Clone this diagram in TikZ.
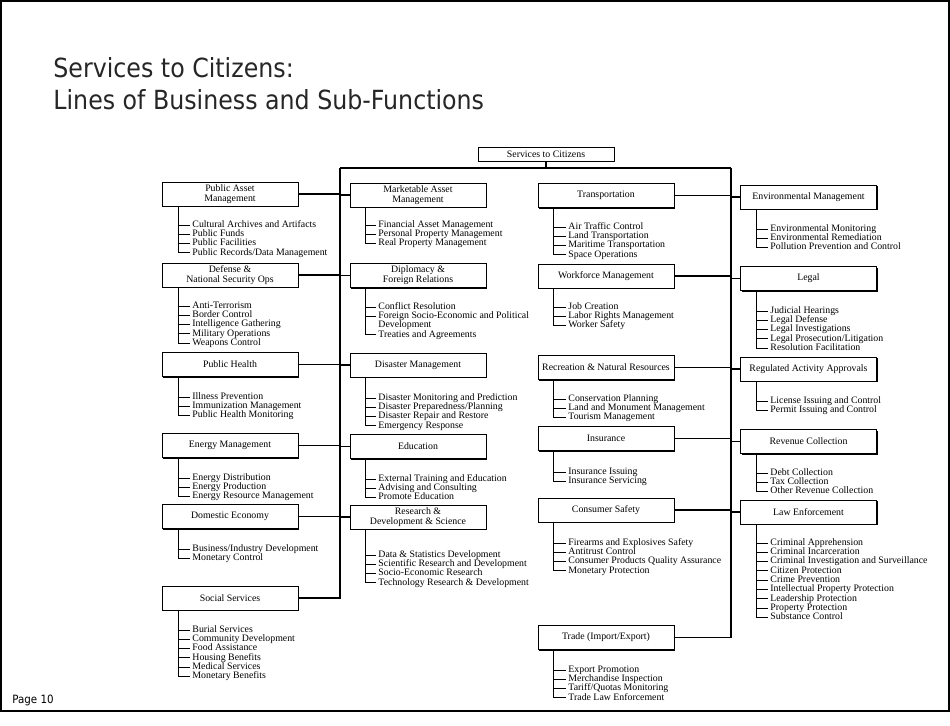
\documentclass[tikz,border=0pt]{standalone}
\usepackage{fontspec}
\setmainfont{Liberation Serif}
\newfontfamily\slidefont{DejaVu Sans Condensed}
\usetikzlibrary{positioning,shadows}

\tikzset{
  lob/.style={draw,fill=white,line width=0.5pt,align=center,inner sep=1pt,
    minimum width=2.72cm,minimum height=0.48cm,font=\fontsize{5.6}{5.8}\selectfont,
    drop shadow={shadow xshift=0.6pt,shadow yshift=-0.6pt,opacity=1,fill=black}},
  sub/.style={inner xsep=0.04cm,inner ysep=0pt,text height=3.9pt,text depth=1.3pt,
    anchor=west,font=\fontsize{5.6}{5.8}\selectfont},
  subnext/.style={at={([yshift=-0.186cm]#1.west)},anchor=west},
  bus/.style={line width=0.6pt},
}

\begin{document}
\begin{tikzpicture}[x=0.02cm,y=-0.02cm,line width=0.5pt]
  \useasboundingbox (0,0) rectangle (950,725);
  \draw[line width=1pt] (1,1) rectangle (949,711);

  \node (title) [anchor=north west,align=left,inner sep=0pt,text=black!85,
    font=\slidefont\fontsize{15}{18}\selectfont] at (53,57)
    {Services to Citizens:\\Lines of Business and Sub-Functions};
  \node (page) [anchor=west,inner sep=0pt,font=\slidefont\fontsize{6.5}{7}\selectfont] at (12,700) {Page 10};

  % root and buses
  \node (sc) [lob,minimum height=0.28cm] at (546,154) {Services to Citizens};
  \coordinate (lbus) at (340,168);
  \coordinate (rbus) at (731,168);

  % left column
  \node (pam) [lob] at (230,194) {Public Asset\\Management};
  \node (dns) [lob] at (230,275) {Defense \&\\National Security Ops};
  \node (ph) [lob] at (230,364.5) {Public Health};
  \node (em) [lob] at (230,445.5) {Energy Management};
  \node (de) [lob] at (230,516.5) {Domestic Economy};
  \node (ss) [lob] at (230,598) {Social Services};

  % second column
  \node (mam) [lob] at (418,195) {Marketable Asset\\Management};
  \node (dfr) [lob] at (418,275.5) {Diplomacy \&\\Foreign Relations};
  \node (dm) [lob] at (418,365) {Disaster Management};
  \node (ed) [lob] at (418,446.5) {Education};
  \node (rds) [lob] at (418,517) {Research \&\\Development \& Science};

  % third column
  \node (tr) [lob] at (606,195.5) {Transportation};
  \node (wm) [lob] at (606,276) {Workforce Management};
  \node (rnr) [lob] at (606,367.5) {Recreation \& Natural Resources};
  \node (ins) [lob] at (606,438.5) {Insurance};
  \node (cs) [lob] at (606,510) {Consumer Safety};
  \node (tie) [lob] at (606,637.5) {Trade (Import/Export)};

  % fourth column
  \node (env) [lob] at (808.5,197) {Environmental Management};
  \node (leg) [lob] at (808.5,278.5) {Legal};
  \node (raa) [lob] at (808.5,369) {Regulated Activity Approvals};
  \node (rc) [lob] at (808.5,441.5) {Revenue Collection};
  \node (le) [lob] at (808.5,512) {Law Enforcement};

  \draw[bus] (sc.south) -- (sc.south |- lbus);
  \draw[bus] (lbus) -- (rbus);
  \draw[bus] (lbus) |- (ss.east);
  \draw[bus] (rbus) |- (tie.east);
  \draw[bus] (pam.east) -- (pam.east -| lbus) (dns.east) -- (dns.east -| lbus)
    (ph.east) -- (ph.east -| lbus) (em.east) -- (em.east -| lbus) (de.east) -- (de.east -| lbus);
  \draw[bus] (mam.west) -- (mam.west -| lbus) (dfr.west) -- (dfr.west -| lbus)
    (dm.west) -- (dm.west -| lbus) (ed.west) -- (ed.west -| lbus) (rds.west) -- (rds.west -| lbus);
  \draw[bus] (tr.east) -- (tr.east -| rbus) (wm.east) -- (wm.east -| rbus)
    (rnr.east) -- (rnr.east -| rbus) (ins.east) -- (ins.east -| rbus) (cs.east) -- (cs.east -| rbus);
  \draw[bus] (env.west) -- (env.west -| rbus) (leg.west) -- (leg.west -| rbus)
    (raa.west) -- (raa.west -| rbus) (rc.west) -- (rc.west -| rbus) (le.west) -- (le.west -| rbus);

  % sub-functions, left column
  \node (pam1) [sub] at (190,225) {Cultural Archives and Artifacts};
  \node (pam2) [sub,subnext=pam1] {Public Funds};
  \node (pam3) [sub,subnext=pam2] {Public Facilities};
  \node (pam4) [sub,subnext=pam3] {Public Records/Data Management};
  \node (dns1) [sub] at (190,306) {Anti-Terrorism};
  \node (dns2) [sub,subnext=dns1] {Border Control};
  \node (dns3) [sub,subnext=dns2] {Intelligence Gathering};
  \node (dns4) [sub,subnext=dns3] {Military Operations};
  \node (dns5) [sub,subnext=dns4] {Weapons Control};
  \node (ph1) [sub] at (190,397) {Illness Prevention};
  \node (ph2) [sub,subnext=ph1] {Immunization Management};
  \node (ph3) [sub,subnext=ph2] {Public Health Monitoring};
  \node (em1) [sub] at (190,478) {Energy Distribution};
  \node (em2) [sub,subnext=em1] {Energy Production};
  \node (em3) [sub,subnext=em2] {Energy Resource Management};
  \node (de1) [sub] at (190,549) {Business/Industry Development};
  \node (de2) [sub,subnext=de1] {Monetary Control};
  \node (ss1) [sub] at (190,630) {Burial Services};
  \node (ss2) [sub,subnext=ss1] {Community Development};
  \node (ss3) [sub,subnext=ss2] {Food Assistance};
  \node (ss4) [sub,subnext=ss3] {Housing Benefits};
  \node (ss5) [sub,subnext=ss4] {Medical Services};
  \node (ss6) [sub,subnext=ss5] {Monetary Benefits};

  % sub-functions, second column
  \node (mam1) [sub] at (376,225) {Financial Asset Management};
  \node (mam2) [sub,subnext=mam1] {Personal Property Management};
  \node (mam3) [sub,subnext=mam2] {Real Property Management};
  \node (dfr1) [sub] at (376,307) {Conflict Resolution};
  \node (dfr2) [sub,subnext=dfr1] {Foreign Socio-Economic and Political};
  \node (dfr2b) [sub,subnext=dfr2] {Development};
  \node (dfr3) [sub,subnext=dfr2b] {Treaties and Agreements};
  \node (dm1) [sub] at (376,398) {Disaster Monitoring and Prediction};
  \node (dm2) [sub,subnext=dm1] {Disaster Preparedness/Planning};
  \node (dm3) [sub,subnext=dm2] {Disaster Repair and Restore};
  \node (dm4) [sub,subnext=dm3] {Emergency Response};
  \node (ed1) [sub] at (376,479) {External Training and Education};
  \node (ed2) [sub,subnext=ed1] {Advising and Consulting};
  \node (ed3) [sub,subnext=ed2] {Promote Education};
  \node (rds1) [sub] at (376,555) {Data \& Statistics Development};
  \node (rds2) [sub,subnext=rds1] {Scientific Research and Development};
  \node (rds3) [sub,subnext=rds2] {Socio-Economic Research};
  \node (rds4) [sub,subnext=rds3] {Technology Research \& Development};

  % sub-functions, third column
  \node (tr1) [sub] at (566,227) {Air Traffic Control};
  \node (tr2) [sub,subnext=tr1] {Land Transportation};
  \node (tr3) [sub,subnext=tr2] {Maritime Transportation};
  \node (tr4) [sub,subnext=tr3] {Space Operations};
  \node (wm1) [sub] at (566,307) {Job Creation};
  \node (wm2) [sub,subnext=wm1] {Labor Rights Management};
  \node (wm3) [sub,subnext=wm2] {Worker Safety};
  \node (rnr1) [sub] at (566,399) {Conservation Planning};
  \node (rnr2) [sub,subnext=rnr1] {Land and Monument Management};
  \node (rnr3) [sub,subnext=rnr2] {Tourism Management};
  \node (ins1) [sub] at (566,472) {Insurance Issuing};
  \node (ins2) [sub,subnext=ins1] {Insurance Servicing};
  \node (cs1) [sub] at (566,543) {Firearms and Explosives Safety};
  \node (cs2) [sub,subnext=cs1] {Antitrust Control};
  \node (cs3) [sub,subnext=cs2] {Consumer Products Quality Assurance};
  \node (cs4) [sub,subnext=cs3] {Monetary Protection};
  \node (tie1) [sub] at (566,670) {Export Promotion};
  \node (tie2) [sub,subnext=tie1] {Merchandise Inspection};
  \node (tie3) [sub,subnext=tie2] {Tariff/Quotas Monitoring};
  \node (tie4) [sub,subnext=tie3] {Trade Law Enforcement};

  % sub-functions, fourth column
  \node (env1) [sub] at (768,229) {Environmental Monitoring};
  \node (env2) [sub,subnext=env1] {Environmental Remediation};
  \node (env3) [sub,subnext=env2] {Pollution Prevention and Control};
  \node (leg1) [sub] at (768,311) {Judicial Hearings};
  \node (leg2) [sub,subnext=leg1] {Legal Defense};
  \node (leg3) [sub,subnext=leg2] {Legal Investigations};
  \node (leg4) [sub,subnext=leg3] {Legal Prosecution/Litigation};
  \node (leg5) [sub,subnext=leg4] {Resolution Facilitation};
  \node (raa1) [sub] at (768,401) {License Issuing and Control};
  \node (raa2) [sub,subnext=raa1] {Permit Issuing and Control};
  \node (rc1) [sub] at (768,473) {Debt Collection};
  \node (rc2) [sub,subnext=rc1] {Tax Collection};
  \node (rc3) [sub,subnext=rc2] {Other Revenue Collection};
  \node (le1) [sub] at (768,543) {Criminal Apprehension};
  \node (le2) [sub,subnext=le1] {Criminal Incarceration};
  \node (le3) [sub,subnext=le2] {Criminal Investigation and Surveillance};
  \node (le4) [sub,subnext=le3] {Citizen Protection};
  \node (le5) [sub,subnext=le4] {Crime Prevention};
  \node (le6) [sub,subnext=le5] {Intellectual Property Protection};
  \node (le7) [sub,subnext=le6] {Leadership Protection};
  \node (le8) [sub,subnext=le7] {Property Protection};
  \node (le9) [sub,subnext=le8] {Substance Control};

  % stems
  \coordinate (pams) at ([xshift=0.34cm]pam.south west);
  \coordinate (dnss) at ([xshift=0.34cm]dns.south west);
  \coordinate (phs) at ([xshift=0.34cm]ph.south west);
  \coordinate (ems) at ([xshift=0.34cm]em.south west);
  \coordinate (des) at ([xshift=0.34cm]de.south west);
  \coordinate (sss) at ([xshift=0.34cm]ss.south west);
  \coordinate (mams) at ([xshift=0.32cm]mam.south west);
  \coordinate (dfrs) at ([xshift=0.32cm]dfr.south west);
  \coordinate (dms) at ([xshift=0.32cm]dm.south west);
  \coordinate (eds) at ([xshift=0.32cm]ed.south west);
  \coordinate (rdss) at ([xshift=0.32cm]rds.south west);
  \coordinate (trs) at ([xshift=0.32cm]tr.south west);
  \coordinate (wms) at ([xshift=0.32cm]wm.south west);
  \coordinate (rnrs) at ([xshift=0.32cm]rnr.south west);
  \coordinate (inss) at ([xshift=0.32cm]ins.south west);
  \coordinate (css) at ([xshift=0.32cm]cs.south west);
  \coordinate (ties) at ([xshift=0.32cm]tie.south west);
  \coordinate (envs) at ([xshift=0.32cm]env.south west);
  \coordinate (legs) at ([xshift=0.32cm]leg.south west);
  \coordinate (raas) at ([xshift=0.32cm]raa.south west);
  \coordinate (rcs) at ([xshift=0.32cm]rc.south west);
  \coordinate (les) at ([xshift=0.32cm]le.south west);

  \draw (pams) |- (pam1.west) (pams) |- (pam2.west) (pams) |- (pam3.west) (pams) |- (pam4.west);
  \draw (dnss) |- (dns1.west) (dnss) |- (dns2.west) (dnss) |- (dns3.west) (dnss) |- (dns4.west) (dnss) |- (dns5.west);
  \draw (phs) |- (ph1.west) (phs) |- (ph2.west) (phs) |- (ph3.west);
  \draw (ems) |- (em1.west) (ems) |- (em2.west) (ems) |- (em3.west);
  \draw (des) |- (de1.west) (des) |- (de2.west);
  \draw (sss) |- (ss1.west) (sss) |- (ss2.west) (sss) |- (ss3.west) (sss) |- (ss4.west) (sss) |- (ss5.west) (sss) |- (ss6.west);
  \draw (mams) |- (mam1.west) (mams) |- (mam2.west) (mams) |- (mam3.west);
  \draw (dfrs) |- (dfr1.west) (dfrs) |- (dfr2.west) (dfrs) |- (dfr3.west);
  \draw (dms) |- (dm1.west) (dms) |- (dm2.west) (dms) |- (dm3.west) (dms) |- (dm4.west);
  \draw (eds) |- (ed1.west) (eds) |- (ed2.west) (eds) |- (ed3.west);
  \draw (rdss) |- (rds1.west) (rdss) |- (rds2.west) (rdss) |- (rds3.west) (rdss) |- (rds4.west);
  \draw (trs) |- (tr1.west) (trs) |- (tr2.west) (trs) |- (tr3.west) (trs) |- (tr4.west);
  \draw (wms) |- (wm1.west) (wms) |- (wm2.west) (wms) |- (wm3.west);
  \draw (rnrs) |- (rnr1.west) (rnrs) |- (rnr2.west) (rnrs) |- (rnr3.west);
  \draw (inss) |- (ins1.west) (inss) |- (ins2.west);
  \draw (css) |- (cs1.west) (css) |- (cs2.west) (css) |- (cs3.west) (css) |- (cs4.west);
  \draw (ties) |- (tie1.west) (ties) |- (tie2.west) (ties) |- (tie3.west) (ties) |- (tie4.west);
  \draw (envs) |- (env1.west) (envs) |- (env2.west) (envs) |- (env3.west);
  \draw (legs) |- (leg1.west) (legs) |- (leg2.west) (legs) |- (leg3.west) (legs) |- (leg4.west) (legs) |- (leg5.west);
  \draw (raas) |- (raa1.west) (raas) |- (raa2.west);
  \draw (rcs) |- (rc1.west) (rcs) |- (rc2.west) (rcs) |- (rc3.west);
  \draw (les) |- (le1.west) (les) |- (le2.west) (les) |- (le3.west) (les) |- (le4.west) (les) |- (le5.west)
    (les) |- (le6.west) (les) |- (le7.west) (les) |- (le8.west) (les) |- (le9.west);
\end{tikzpicture}
\end{document}
